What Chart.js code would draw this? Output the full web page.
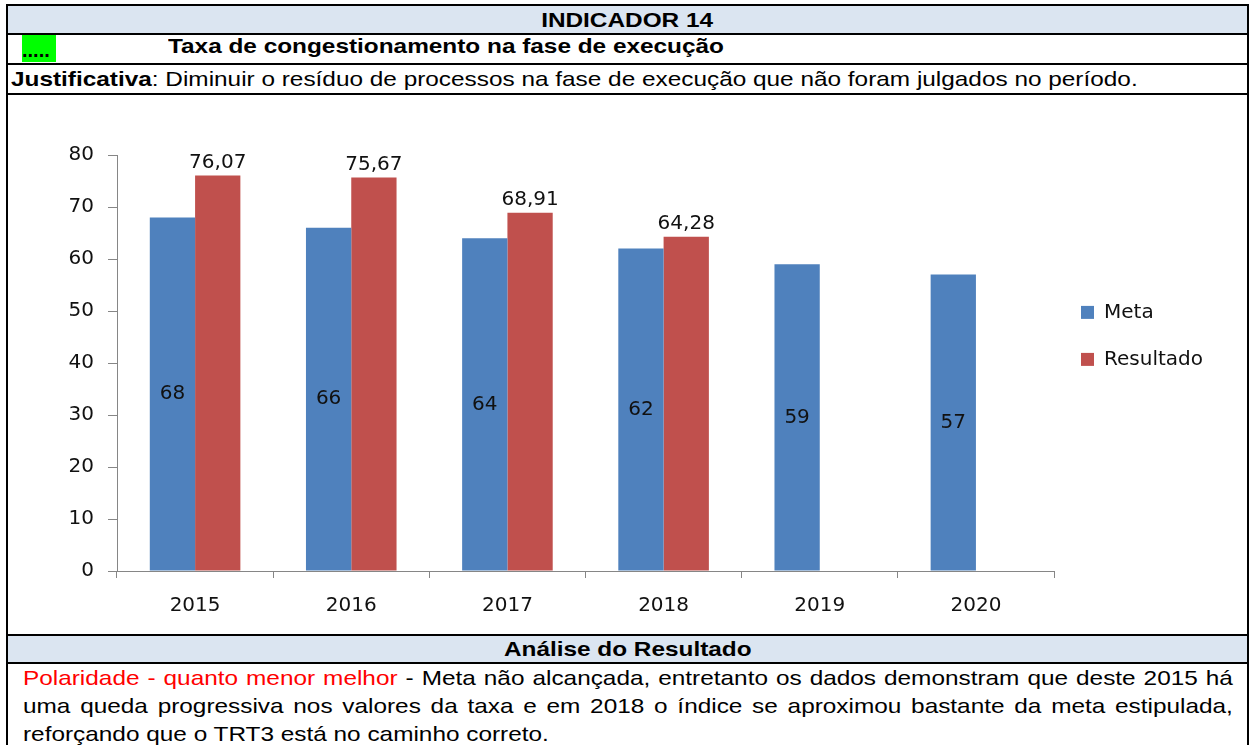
<!DOCTYPE html>
<html>
<head>
<meta charset="utf-8">
<script src="https://cdn.jsdelivr.net/npm/chart.js@4"></script>
<style>
  body { margin: 0; background: #fff; font-family: "Liberation Sans", Arial, sans-serif; color: #000; }
  #frame { position: absolute; left: 6px; top: 4px; width: 1243px; height: 800px;
           border: 2px solid #000; border-bottom: none; box-sizing: border-box; }
  .row { position: relative; border-bottom: 2px solid #000; box-sizing: border-box; font-size: 21px; }
  .head { background: #dbe5f1; font-weight: bold; text-align: center; line-height: 27px; }
  .sx { display: inline-block; transform: scaleX(1.16); white-space: nowrap; }
  .head .sx { transform-origin: center; }
  #r1 { height: 29px; }
  #r2 { height: 30px; line-height: 22px; font-weight: bold; }
  #r3 { height: 30px; line-height: 28px; padding-left: 3px; }
  #r3 .sx { transform-origin: left; }
  #r4 { height: 541px; }
  #r5 { height: 28px; line-height: 26px; }
  #r6 { height: 90px; }
  #texto { position: absolute; left: 15px; top: 0; width: 1043px; text-align: justify; line-height: 28px;
           transform: scaleX(1.16); transform-origin: left top; }
  .green { position: absolute; left: 14px; top: 0; width: 34px; height: 27px; background: #00ff00; line-height: 30px; font-size: 20px; }
  .title { position: absolute; left: 160px; top: 0; transform-origin: left; }
  .red { color: #ff0000; }
  #chartBox { position: absolute; left: 0; top: 0; width: 1239px; height: 539px; }
</style>
</head>
<body>
<div id="frame">
  <div class="row head" id="r1"><span class="sx">INDICADOR 14</span></div>
  <div class="row" id="r2"><span class="green">.....</span><span class="title sx">Taxa de congestionamento na fase de execução</span></div>
  <div class="row" id="r3"><span class="sx"><b>Justificativa</b>: Diminuir o resíduo de processos na fase de execução que não foram julgados no período.</span></div>
  <div class="row" id="r4"><div id="chartBox"><canvas id="chart"></canvas></div></div>
  <div class="row head" id="r5"><span class="sx">Análise do Resultado</span></div>
  <div class="row" id="r6" style="border-bottom:none"><div id="texto"><span class="red">Polaridade - quanto menor melhor</span> - Meta não alcançada, entretanto os dados demonstram que deste 2015 há uma queda progressiva nos valores da taxa e em 2018 o índice se aproximou bastante da meta estipulada, reforçando que o TRT3 está no caminho correto.</div></div>
</div>
<script>
const anos = ['2015', '2016', '2017', '2018', '2019', '2020'];
const meta = [68, 66, 64, 62, 59, 57];
const resultado = [76.07, 75.67, 68.91, 64.28, null, null];
const yTicks = [0, 10, 20, 30, 40, 50, 60, 70, 80];

const fonte = { family: '"DejaVu Sans", sans-serif', size: 20 };
const cinza = '#868686';

// rótulos de dados: meta no meio da barra, resultado acima
const rotulos = {
  id: 'rotulos',
  afterDatasetsDraw(chart) {
    const ctx = chart.ctx;
    ctx.save();
    ctx.font = '20px "DejaVu Sans", sans-serif';
    ctx.fillStyle = '#111';
    ctx.textAlign = 'center';
    ctx.textBaseline = 'middle';
    chart.data.datasets.forEach((ds, i) => {
      chart.getDatasetMeta(i).data.forEach((bar, j) => {
        const v = ds.data[j];
        if (v == null) return;
        if (i === 0) {
          ctx.fillText(String(v), bar.x, (bar.y + bar.base) / 2);
        } else {
          ctx.fillText(v.toFixed(2).replace('.', ','), bar.x, bar.y - 13);
        }
      });
    });
    ctx.restore();
  }
};

new Chart(document.getElementById('chart'), {
  type: 'bar',
  data: {
    labels: anos,
    datasets: [
      { label: 'Meta', data: meta, backgroundColor: '#4f81bd' },
      { label: 'Resultado', data: resultado, backgroundColor: '#c0504d' }
    ]
  },
  options: {
    responsive: true,
    maintainAspectRatio: false,
    animation: false,
    categoryPercentage: 0.58,
    barPercentage: 1,
    layout: { padding: { top: 60, right: 34, bottom: 0, left: 0 } },
    plugins: {
      tooltip: { enabled: false },
      legend: {
        position: 'right',
        align: 'start',
        title: { display: true, text: ' ', padding: { top: 106, bottom: 0 } },
        labels: { boxWidth: 13, boxHeight: 13, padding: 27, color: '#111', font: fonte }
      }
    },
    scales: {
      x: {
        grid: { display: true, drawOnChartArea: false, offset: true, color: cinza, tickLength: 7 },
        border: { color: cinza },
        ticks: { color: '#111', font: fonte, padding: 16 },
        afterFit: s => { s.height = 63; }
      },
      y: {
        min: 0, max: 80,
        afterBuildTicks: s => { s.ticks = yTicks.map(v => ({ value: v })); },
        grid: { drawOnChartArea: false, color: cinza, tickLength: 9 },
        border: { color: cinza },
        ticks: { color: '#111', font: fonte, padding: 14 },
        afterFit: s => { s.width = 109; }
      }
    }
  },
  plugins: [rotulos]
});
</script>
</body>
</html>
